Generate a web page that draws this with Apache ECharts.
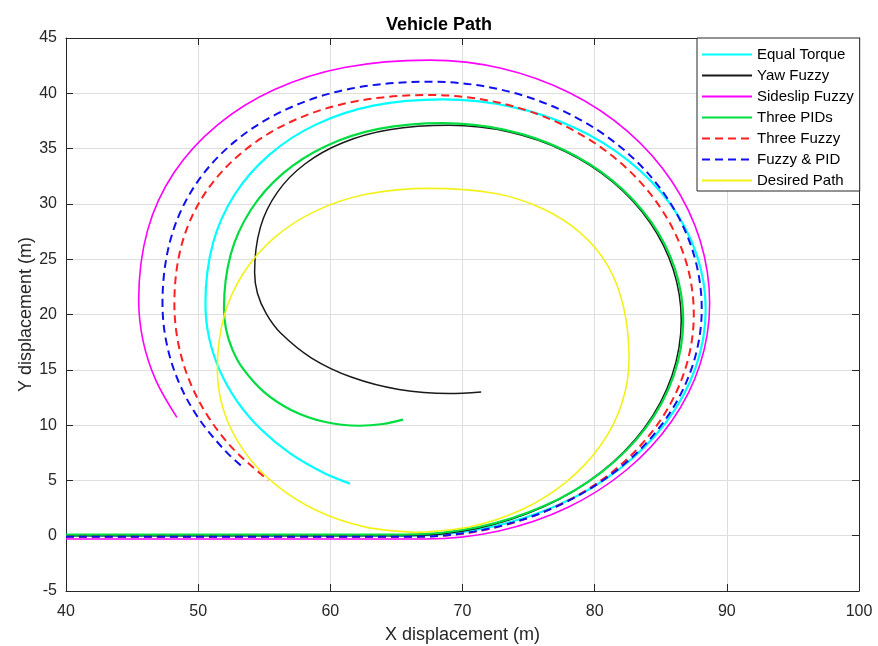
<!DOCTYPE html>
<html>
<head>
<meta charset="utf-8">
<title>Vehicle Path</title>
<script src="https://cdn.jsdelivr.net/npm/echarts@6/dist/echarts.min.js"></script>
<style>
  html, body { margin: 0; padding: 0; background: #fff; }
  #chart { width: 878px; height: 646px; }
</style>
</head>
<body>
<div id="chart"></div>
<script>
// Path coordinates [x, y] in metres for each controller
const equalTorque = [[40,0],[60,0],[66,0],[71.8,0.7],[77.2,2.75],[81.84,6.0],[85.4,10.25],[87.64,15.19],[88.4,20.5],[87.72,25.4],[85.73,29.98],[82.57,33.9],[78.45,36.91],[73.65,38.8],[68.5,39.45],[63.25,38.88],[58.94,37.19],[55.4,34.46],[52.75,30.83],[51.11,26.4],[50.55,21],[50.82,17.93],[51.63,14.95],[52.95,12.15],[54.75,9.62],[56.96,7.44],[59.52,5.67],[61.49,4.71]];

const yawFuzzy = [[40,0],[60,0],[65.7,0],[71.1,0.66],[76.13,2.61],[80.44,5.71],[83.76,9.75],[85.84,14.45],[86.55,19.5],[85.95,24.05],[84.2,28.3],[81.41,31.95],[77.78,34.74],[73.54,36.5],[69,37.1],[64.45,36.7],[60.94,35.53],[58.1,33.63],[56.0,31.07],[54.71,27.9],[54.27,23.8],[54.49,21.9],[55.16,20.05],[56.24,18.32],[58.58,16.06],[61.63,14.32],[65.19,13.22],[69,12.85],[71.41,13.0]];

const sideslipFuzzy = [[40,-0.3],[60,-0.3],[67.2,-0.3],[72.76,0.43],[77.95,2.55],[82.4,5.94],[85.82,10.35],[87.97,15.49],[88.7,21],[87.98,26.69],[85.86,32.0],[82.49,36.56],[78.1,40.05],[72.99,42.25],[67.5,43.0],[61.06,42.33],[55.78,40.34],[51.45,37.13],[48.19,32.86],[46.18,27.65],[45.5,21.3],[45.83,17.62],[46.8,14.05],[48.39,10.7]];

const threePIDs = [[40,0.1],[60,0.1],[65.7,0.1],[71.13,0.76],[76.2,2.7],[80.55,5.78],[83.89,9.8],[85.98,14.48],[86.7,19.5],[86.08,24.11],[84.26,28.4],[81.37,32.09],[77.6,34.92],[73.21,36.69],[68.5,37.3],[63.66,36.78],[59.69,35.24],[56.42,32.76],[53.98,29.45],[52.46,25.42],[51.95,20.5],[52.11,18.67],[52.57,16.89],[53.32,15.22],[54.95,13.03],[57.07,11.35],[59.55,10.3],[62.2,9.94],[63.98,10.1],[65.5,10.5]];

const threeFuzzy = [[40,-0.1],[60,-0.1],[66.5,-0.1],[71.93,0.59],[77.0,2.59],[81.35,5.79],[84.69,9.95],[86.78,14.8],[87.5,20],[86.82,25.14],[84.82,29.93],[81.64,34.04],[77.5,37.19],[72.68,39.17],[67.5,39.85],[61.85,39.26],[57.22,37.54],[53.42,34.75],[50.56,31.04],[48.8,26.52],[48.2,21],[48.49,17.42],[49.36,13.95],[50.79,10.7],[52.72,7.76],[55.3,5.03]];

const fuzzyPID = [[40,-0.1],[60,-0.1],[66.2,-0.1],[71.87,0.6],[77.15,2.66],[81.69,5.93],[85.17,10.2],[87.35,15.17],[88.1,20.5],[87.4,25.82],[85.34,30.78],[82.07,35.03],[77.8,38.3],[72.83,40.35],[67.5,41.05],[61.59,40.43],[56.74,38.59],[52.76,35.63],[49.77,31.68],[47.93,26.87],[47.3,21],[47.61,17.41],[48.52,13.92],[50.01,10.65],[52.03,7.69],[53.29,6.29]];

const desiredPath = [[66.5,0.3],[70.67,0.84],[74.55,2.4],[77.88,4.9],[80.44,8.15],[82.05,11.94],[82.6,16],[82.2,20.6],[81.0,24.4],[78.9,27.4],[76.0,29.6],[72.4,30.96],[67.5,31.4],[62.8,30.89],[58.95,29.39],[55.79,26.97],[53.42,23.73],[51.95,19.8],[51.45,15],[51.96,11.2],[53.47,7.65],[55.86,4.61],[58.97,2.27],[62.6,0.8],[66.5,0.3]];

// Axis ranges and tick spacing
const xTicks = { min: 40, max: 100, step: 10 };
const yTicks = { min: -5, max: 45, step: 5 };

const FONT = "'Liberation Sans', Arial, Helvetica, sans-serif";
const AXIS_COLOR = '#262626';

function pathSeries(name, data, color, width, dashed) {
  return {
    name: name,
    type: 'line',
    data: data,
    showSymbol: false,
    symbol: 'none',
    smooth: 0.34,
    clip: true,
    lineStyle: { color: color, width: width, type: dashed ? [8, 5] : 'solid' },
    itemStyle: { color: color },
    emphasis: { disabled: true }
  };
}

const chart = echarts.init(document.getElementById('chart'), null, { renderer: 'canvas' });

const baseAxis = {
  axisLine: { show: true, onZero: false, lineStyle: { color: AXIS_COLOR, width: 1 } },
  axisTick: { show: true, inside: true, length: 7, lineStyle: { color: AXIS_COLOR } },
};

chart.setOption({
  animation: false,
  backgroundColor: '#ffffff',
  title: {
    text: 'Vehicle Path',
    left: 'center',
    top: 11,
    textStyle: { fontFamily: FONT, fontSize: 18, fontWeight: 'bold', color: '#000' }
  },
  grid: { left: 66, right: 19, top: 38, bottom: 55, containLabel: false, outerBoundsMode: 'none' },
  legend: {
    orient: 'vertical',
    left: 697,
    top: 38,
    padding: [9, 6, 3, 4],
    itemWidth: 50,
    itemHeight: 14,
    itemGap: 6,
    backgroundColor: '#ffffff',
    borderColor: AXIS_COLOR,
    borderWidth: 1,
    itemStyle: { color: 'rgba(0,0,0,0)', borderWidth: 0 },
    textStyle: { fontFamily: FONT, fontSize: 15, color: '#000' },
    data: ['Equal Torque', 'Yaw Fuzzy', 'Sideslip Fuzzy', 'Three PIDs', 'Three Fuzzy', 'Fuzzy & PID', 'Desired Path']
  },
  xAxis: [
    Object.assign({}, baseAxis, {
      type: 'value',
      position: 'bottom',
      min: xTicks.min, max: xTicks.max, interval: xTicks.step,
      name: 'X displacement (m)',
      nameLocation: 'middle',
      nameGap: 35,
      nameMoveOverlap: false,
      nameTextStyle: { fontFamily: FONT, fontSize: 18, color: AXIS_COLOR },
      axisLabel: { fontFamily: FONT, fontSize: 16, color: AXIS_COLOR, margin: 13 },
      splitLine: { show: true, lineStyle: { color: '#dedede', width: 1 } }
    }),
    Object.assign({}, baseAxis, {
      type: 'value',
      position: 'top',
      min: xTicks.min, max: xTicks.max, interval: xTicks.step,
      axisLabel: { show: false },
      splitLine: { show: false }
    })
  ],
  yAxis: [
    Object.assign({}, baseAxis, {
      type: 'value',
      position: 'left',
      min: yTicks.min, max: yTicks.max, interval: yTicks.step,
      name: 'Y displacement (m)',
      nameLocation: 'middle',
      nameGap: 31,
      nameRotate: 90,
      nameMoveOverlap: false,
      nameTextStyle: { fontFamily: FONT, fontSize: 18, color: AXIS_COLOR },
      axisLabel: { fontFamily: FONT, fontSize: 16, color: AXIS_COLOR, margin: 9 },
      splitLine: { show: true, lineStyle: { color: '#dedede', width: 1 } }
    }),
    Object.assign({}, baseAxis, {
      type: 'value',
      position: 'right',
      min: yTicks.min, max: yTicks.max, interval: yTicks.step,
      axisLabel: { show: false },
      splitLine: { show: false }
    })
  ],
  series: [
    pathSeries('Equal Torque', equalTorque, '#00ffff', 2.2, false),
    pathSeries('Yaw Fuzzy', yawFuzzy, '#1a1a1a', 1.5, false),
    pathSeries('Sideslip Fuzzy', sideslipFuzzy, '#ff00ff', 1.6, false),
    pathSeries('Three PIDs', threePIDs, '#00dd40', 2.2, false),
    pathSeries('Three Fuzzy', threeFuzzy, '#ff2020', 2, true),
    pathSeries('Fuzzy & PID', fuzzyPID, '#1010f0', 2, true),
    pathSeries('Desired Path', desiredPath, '#f2f21a', 1.6, false)
  ]
});
</script>
</body>
</html>
